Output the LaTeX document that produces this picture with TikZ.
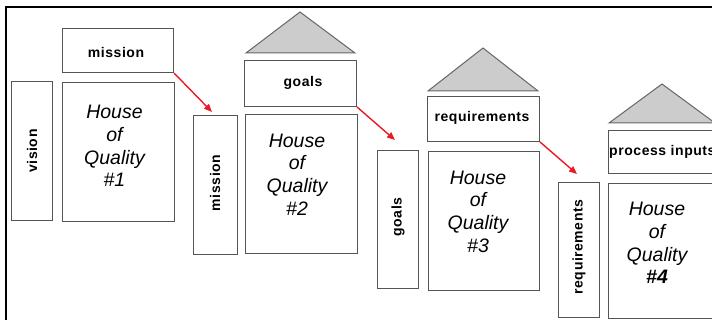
\documentclass[tikz,border=0pt]{standalone}
\usepackage{fontspec}
\setmainfont{Liberation Sans}
\newfontfamily\lblfont[LetterSpace=4]{Liberation Sans}
\usetikzlibrary{arrows.meta}
\definecolor{flowred}{RGB}{235,25,35}
\definecolor{edgegray}{RGB}{85,85,85}
\definecolor{roofgray}{RGB}{204,204,204}
\begin{document}
\begin{tikzpicture}[x=1pt,y=-1pt,
  box/.style={draw=edgegray, line width=1pt, rectangle, inner sep=0pt, fill=white, anchor=north west},
  roof/.style={draw=edgegray!90, line width=1pt, fill=roofgray, line join=miter},
  lbl/.style={font=\fontsize{14}{16}\lblfont\bfseries, inner sep=0pt},
  vlbl/.style={lbl, rotate=90},
  hoq/.style={font=\fontsize{19.5}{22.7}\selectfont\itshape, align=center, inner sep=0pt},
  flow/.style={draw=flowred, line width=1.4pt, -{Triangle[length=8pt,width=6.5pt]}},
  frame/.style={draw=black, line width=2pt}]
\useasboundingbox (0,0) rectangle (712,320);
\clip (0,0) rectangle (712,320);

% group 1
\node[box, minimum width=111pt, minimum height=44pt] (m1) at (62,28) {};
\node[lbl] (m1t) at (116,52) {mission};
\node[box, minimum width=41pt, minimum height=139pt] (v1) at (11,81) {};
\node[vlbl] (v1t) at (v1.center) {vision};
\node[box, minimum width=112pt, minimum height=139pt] (h1) at (62,82) {};
\node[hoq] (h1t) at (114.5,146) {House\\of\\Quality\\\#1};

% group 2
\draw[roof] (246,53) -- (300,12) -- (355,53) -- cycle;
\node[box, minimum width=112pt, minimum height=46pt] (g2) at (244,60) {};
\node[lbl] (g2t) at (303,83) {goals};
\node[box, minimum width=44pt, minimum height=139pt] (mv2) at (193,115) {};
\node[vlbl] (mv2t) at (215,183) {mission};
\node[box, minimum width=112pt, minimum height=139pt] (h2) at (245,114) {};
\node[hoq] (h2t) at (297,174.5) {House\\of\\Quality\\\#2};

% group 3
\draw[roof] (428,91) -- (483,48) -- (538,91) -- cycle;
\node[box, minimum width=112pt, minimum height=45pt] (r3) at (427,96) {};
\node[lbl] (r3t) at (482,118) {requirements};
\node[box, minimum width=41pt, minimum height=138pt] (gv3) at (377,150) {};
\node[vlbl] (gv3t) at (398,217) {goals};
\node[box, minimum width=111pt, minimum height=139pt] (h3) at (428,151) {};
\node[hoq] (h3t) at (478,211.5) {House\\of\\Quality\\\#3};

% group 4
\draw[roof] (609,123) -- (662,84) -- (715,123) -- cycle;
\node[box, minimum width=112pt, minimum height=43pt] (p4) at (608,130) {};
\node[lbl, anchor=west] (p4t) at (609,152) {process inputs};
\node[box, minimum width=41pt, minimum height=135pt] (rv4) at (558,182) {};
\node[vlbl] (rv4t) at (579,247) {requirements};
\node[box, minimum width=112pt, minimum height=135pt] (h4) at (608,183) {};
\node[hoq] (h4t) at (657,243) {House\\of\\Quality\\\textbf{\#4}};

% connectors
\coordinate (t1) at (212,112);
\coordinate (t2) at (395,140);
\coordinate (t3) at (577,174);
\draw[flow] (m1.south east) -- (t1);
\draw[flow] (g2.south east) -- (t2);
\draw[flow] (r3.south east) -- (t3);

% frame
\draw[frame] (5.7,320) -- (5.7,7.5) -- (712,7.5);
\end{tikzpicture}
\end{document}
